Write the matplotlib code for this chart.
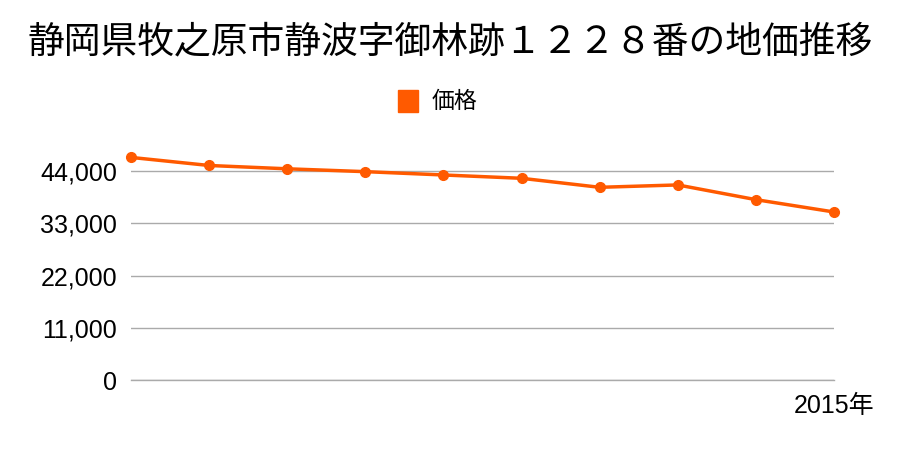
import matplotlib
matplotlib.use("Agg")
import matplotlib.pyplot as plt
from matplotlib.patches import Rectangle

plt.rcParams['font.family'] = ['Liberation Sans', 'Noto Sans CJK JP']

title = "静岡県牧之原市静波字御林跡１２２８番の地価推移"
series_name = "価格"
prices = [46900, 45200, 44500, 43900, 43200, 42500, 40600, 41100, 38000, 35400]
x_labels = [""] * 9 + ["2015年"]
y_ticks = [0, 11000, 22000, 33000, 44000]

color = "#ff5a00"
cjk = ['Noto Sans CJK JP', 'DejaVu Sans']

fig = plt.figure(figsize=(9, 4.5), dpi=100)
ax = fig.add_axes([131 / 900, 70 / 450, (834 - 131) / 900, 237.3 / 450])

xs = list(range(len(prices)))
ax.plot(xs, prices, color=color, linewidth=2.5, marker="o", markersize=7,
        clip_on=False, zorder=3)

ax.set_xlim(0, len(prices) - 1)
ax.set_ylim(0, 50000)
ax.set_yticks(y_ticks)
ax.set_yticklabels([f"{v:,}" for v in y_ticks], fontsize=18)
ax.set_xticks(xs)
ax.set_xticklabels(x_labels, fontsize=18)
ax.grid(axis="y", color="#aaaaaa", linewidth=1)
ax.axhline(0, color="#aaaaaa", linewidth=1, clip_on=False, zorder=1)
ax.set_axisbelow(True)
for s in ax.spines.values():
    s.set_visible(False)
ax.tick_params(axis="y", length=0, pad=10)
ax.tick_params(axis="x", length=0, pad=10)

fig.text(0.5, 1 - 42 / 450, title, ha="center", va="center", fontsize=26.5, family=cjk)
fig.patches.append(Rectangle((398 / 900, 1 - 112 / 450), 20 / 900, 22 / 450,
                             transform=fig.transFigure, color=color))
fig.text(432 / 900, 1 - 101 / 450, series_name, ha="left", va="center",
         fontsize=16.5, family=cjk)

fig.savefig("out.png", dpi=100)
